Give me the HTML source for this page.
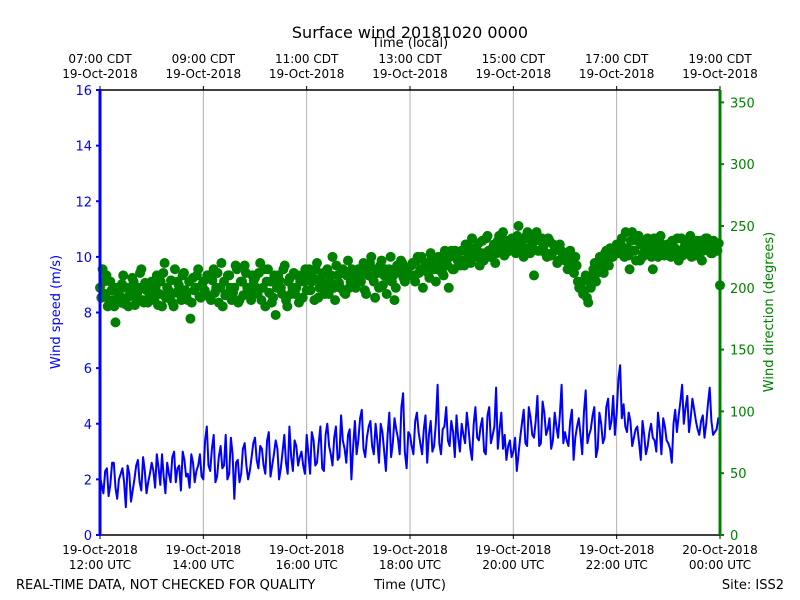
<!DOCTYPE html>
<html><head><meta charset="utf-8"><style>
body{margin:0;background:#fff}
svg{display:block;font-family:"DejaVu Sans","Liberation Sans",sans-serif}
</style></head><body>
<svg id="chart" width="800" height="600" xmlns="http://www.w3.org/2000/svg">
<text x="410" y="38" font-size="16" text-anchor="middle">Surface wind 20181020 0000</text>
<text x="410" y="47" font-size="13" text-anchor="middle">Time (local)</text>
<g id="grid"></g>
<g id="dirs"></g>
<g id="speed"></g>
<g id="axes"></g>
<text x="60" y="312" font-size="13" fill="#0000ff" text-anchor="middle" transform="rotate(-90 60 312)">Wind speed (m/s)</text>
<text x="773" y="312" font-size="13" fill="#008000" text-anchor="middle" transform="rotate(-90 773 312)">Wind direction (degrees)</text>
<text x="16" y="589" font-size="13">REAL-TIME DATA, NOT CHECKED FOR QUALITY</text>
<text x="410" y="589" font-size="13" text-anchor="middle">Time (UTC)</text>
<text x="784" y="589" font-size="13" text-anchor="end">Site: ISS2</text>
</svg>
<script>
const speedValues=[2.1,1.5,2.4,1.8,2.6,1.3,2.2,1.9,2.5,1.2,2.0,2.7,1.6,2.3,1.9,
2.6,1.7,2.4,2.9,1.5,2.2,2.8,1.9,2.5,3.0,2.1,1.7,2.6,2.3,2.9,
2.0,3.9,2.3,3.6,2.1,3.2,2.5,2.0,3.5,1.3,2.7,2.2,3.3,2.0,2.8,
3.5,2.4,3.1,2.2,3.7,2.5,3.4,2.0,3.0,2.6,3.9,2.3,3.2,2.8,2.5,
3.6,2.2,3.4,2.6,3.9,2.3,4.0,2.9,3.5,2.7,4.3,3.1,3.6,2.0,4.1,
3.4,4.5,2.8,3.9,3.2,4.0,2.6,3.7,2.3,4.4,3.3,3.8,2.9,5.1,2.4,
3.6,2.9,4.4,3.3,3.8,2.6,4.1,3.2,5.4,2.9,3.9,3.4,4.1,2.8,3.5,
4.0,3.3,3.8,2.7,4.6,3.4,4.2,2.9,4.6,3.6,5.3,3.8,3.1,2.7,3.4,
3.0,2.3,3.5,4.5,3.2,4.2,3.5,5.0,3.3,4.4,3.8,3.1,4.4,3.5,5.4,
3.7,3.2,4.5,3.5,4.2,2.9,5.2,3.6,4.3,2.8,4.4,3.3,4.6,3.8,5.0,
4.4,6.1,4.7,3.7,4.1,3.5,3.9,2.7,3.6,3.2,4.0,3.4,4.4,2.9,3.9,
3.3,2.6,4.5,4.3,5.4,4.6,3.7,4.9,4.1,3.6,4.3,4.0,5.3,3.6,3.8,4.0];
const speedValuesB=[1.8,2.3,1.4,2.6,1.7,2.0,2.4,1.0,2.2,1.6,2.5,1.9,2.8,1.5,2.2,
2.3,2.9,1.8,2.1,2.6,1.9,3.0,2.4,1.6,2.7,2.2,2.9,1.9,2.5,2.1,
3.4,2.5,3.1,1.9,2.8,2.4,3.6,2.2,2.9,2.6,1.9,3.1,2.5,2.3,3.3,
2.7,3.2,2.5,3.4,2.1,2.9,3.1,2.4,3.6,2.2,2.8,3.4,2.5,3.0,2.2,
2.9,3.7,2.5,3.3,2.4,3.6,3.2,2.5,3.9,2.8,3.4,2.6,3.8,3.2,2.9,
4.2,3.1,3.5,4.1,2.9,3.4,4.0,3.0,3.6,2.8,4.2,3.5,4.6,3.0,3.7,
3.2,4.1,3.7,2.9,4.3,3.6,3.0,4.0,3.3,3.8,4.6,3.2,3.7,4.3,3.0,
3.6,4.4,3.1,4.0,3.5,3.9,3.0,4.3,3.3,3.9,3.1,4.4,3.6,3.2,2.8,
3.5,2.9,4.0,3.3,4.6,3.6,4.1,3.2,4.8,3.6,4.2,3.4,3.9,4.3,3.3,
3.4,4.1,2.7,3.9,3.6,4.4,3.3,3.8,4.6,3.1,4.0,3.5,4.9,4.1,3.6,
5.6,4.2,3.9,4.4,3.2,3.8,3.3,4.1,2.9,3.7,3.5,3.0,3.8,4.2,3.4,
3.1,4.0,3.7,4.8,4.0,5.0,4.2,4.5,3.8,4.1,3.5,4.7,4.1,3.7,4.2];
const dirValues=[200,215,195,185,205,190,172,196,188,210,200,185,195,205,190,200,215,188,198,192,
205,190,210,195,185,220,200,192,188,215,205,195,210,198,190,175,208,200,215,192,
205,195,210,190,215,200,188,220,205,195,210,190,200,215,190,205,218,200,195,210,
208,195,220,200,185,215,205,192,178,210,200,215,190,205,195,212,200,188,210,205,
198,215,205,190,220,200,210,195,215,205,225,190,210,200,215,195,222,205,210,200,
215,205,220,195,210,225,205,215,200,222,210,195,215,205,190,218,212,220,205,215,
210,220,205,225,215,200,220,212,228,215,205,225,218,210,222,200,230,215,225,220,
230,218,235,222,240,225,230,218,238,228,242,225,232,220,238,230,245,228,235,232,
240,228,250,235,225,242,232,238,210,245,230,240,235,225,238,228,230,220,235,228,
222,215,230,218,225,205,200,195,210,188,200,215,205,220,225,212,230,218,225,232,
235,228,240,225,232,215,245,230,238,222,225,232,240,228,215,235,225,242,230,228,
235,225,238,230,222,240,232,228,236,225,230,238,228,222,235,240,230,228,236,230,202];
const dirValuesB=[192,205,210,190,198,185,200,194,203,187,192,200,208,186,196,212,190,204,188,200,
193,200,186,205,212,192,198,206,185,196,202,190,212,195,205,188,198,210,193,202,
198,210,192,206,196,212,200,185,194,210,200,196,218,188,205,194,212,200,190,206,
200,212,190,215,205,196,188,210,200,206,195,218,185,208,200,195,210,205,192,215,
210,198,208,215,192,205,212,200,195,210,200,218,204,212,196,210,200,215,205,212,
205,212,198,215,220,208,192,212,218,202,215,208,225,210,200,215,222,208,215,210,
218,210,222,212,225,215,220,208,225,218,215,225,212,230,218,225,215,230,222,218,
222,235,228,220,232,225,236,228,222,240,230,225,235,228,242,233,226,238,230,240,
235,242,230,238,232,245,228,236,242,230,238,232,228,240,226,235,232,222,230,225,
228,220,225,212,218,200,205,198,192,205,210,220,212,225,218,228,222,232,225,230,
228,236,232,245,226,238,230,222,242,235,228,238,232,225,240,230,238,232,226,235,
228,238,232,240,228,226,236,230,242,232,226,234,238,230,240,234,228,238,232,236];
const speedTicks=[0,2,4,6,8,10,12,14,16];
const dirTicks=[0,50,100,150,200,250,300,350];
const utcLabels=["19-Oct-2018|12:00 UTC","19-Oct-2018|14:00 UTC","19-Oct-2018|16:00 UTC","19-Oct-2018|18:00 UTC","19-Oct-2018|20:00 UTC","19-Oct-2018|22:00 UTC","20-Oct-2018|00:00 UTC"];
const localLabels=["07:00 CDT|19-Oct-2018","09:00 CDT|19-Oct-2018","11:00 CDT|19-Oct-2018","13:00 CDT|19-Oct-2018","15:00 CDT|19-Oct-2018","17:00 CDT|19-Oct-2018","19:00 CDT|19-Oct-2018"];
const X0=100,X1=720,Y0=535,Y1=90;
const xOfHour=h=>X0+(X1-X0)*h/12;
const ySpeed=v=>Y0-(Y0-Y1)*v/16;
const yDir=d=>Y0-(Y0-Y1)*d/360;
const NS="http://www.w3.org/2000/svg";
function mk(tag,attrs,parent,txt){const e=document.createElementNS(NS,tag);for(const k in attrs)e.setAttribute(k,attrs[k]);if(txt!==undefined)e.textContent=txt;parent.appendChild(e);return e;}
const grid=document.getElementById('grid'),axes=document.getElementById('axes');
utcLabels.forEach((lab,i)=>{
  const x=xOfHour(i*2);
  if(i>0&&i<utcLabels.length-1){const g=mk('line',{x1:x,x2:x,y1:Y1,y2:Y0,stroke:'#b0b0b0','stroke-width':1},grid);
  
  }
  mk('line',{x1:x,x2:x,y1:Y0,y2:Y0+4,stroke:'#000'},axes);
  mk('line',{x1:x,x2:x,y1:Y1,y2:Y1-4,stroke:'#000'},axes);
  const p=lab.split('|');
  const t=mk('text',{x:x,y:554,'font-size':12,'text-anchor':'middle'},axes,p[0]);
  
  
  mk('text',{x:x,y:569,'font-size':12,'text-anchor':'middle'},axes,p[1]);
  const q=localLabels[i].split('|');
  const t2=mk('text',{x:x,y:63,'font-size':12,'text-anchor':'middle'},axes,q[0]);
  
  
  mk('text',{x:x,y:78,'font-size':12,'text-anchor':'middle'},axes,q[1]);
});
const dg=document.getElementById('dirs');
const stepA=12/(dirValues.length-1);
dirValues.forEach((d,i)=>{const c=mk('circle',{cx:xOfHour(i*stepA),cy:yDir(d),r:5,fill:'#008000'},dg);

});
dirValuesB.forEach((d,i)=>{const c=mk('circle',{cx:xOfHour((i+0.5)*stepA),cy:yDir(d),r:5,fill:'#008000'},dg);

});
// interleave the two speed samples (B at half-step offsets)
const merged=[];
const stepS=12/(speedValues.length-1);
speedValues.forEach((v,i)=>{merged.push([i*stepS,v]);if(i<speedValuesB.length)merged.push([(i+0.5)*stepS,speedValuesB[i]]);});
const pts=merged.map(p=>xOfHour(p[0]).toFixed(1)+','+ySpeed(p[1]).toFixed(1)).join(' ');
const pl=mk('polyline',{points:pts,fill:'none',stroke:'#0000ff','stroke-width':2,'stroke-linejoin':'round'},document.getElementById('speed'));


mk('line',{x1:X0,x2:X1,y1:Y1,y2:Y1,stroke:'#000','stroke-width':1.5},axes);
mk('line',{x1:X0,x2:X1,y1:Y0,y2:Y0,stroke:'#000','stroke-width':1.5},axes);
const ls=mk('line',{x1:X0,x2:X0,y1:Y1,y2:Y0,stroke:'#0000ff','stroke-width':3},axes);


const rs=mk('line',{x1:X1,x2:X1,y1:Y1,y2:Y0,stroke:'#008000','stroke-width':3},axes);


speedTicks.forEach(v=>{const y=ySpeed(v);mk('line',{x1:X0-4,x2:X0,y1:y,y2:y,stroke:'#0000ff','stroke-width':2},axes);
const t=mk('text',{x:X0-8,y:y+5,'font-size':13,fill:'#0000ff','text-anchor':'end'},axes,v);

});
dirTicks.forEach(v=>{const y=yDir(v);mk('line',{x1:X1,x2:X1+4,y1:y,y2:y,stroke:'#008000','stroke-width':2},axes);
const t=mk('text',{x:X1+10,y:y+5,'font-size':13,fill:'#008000'},axes,v);

});
</script>
</body></html>
